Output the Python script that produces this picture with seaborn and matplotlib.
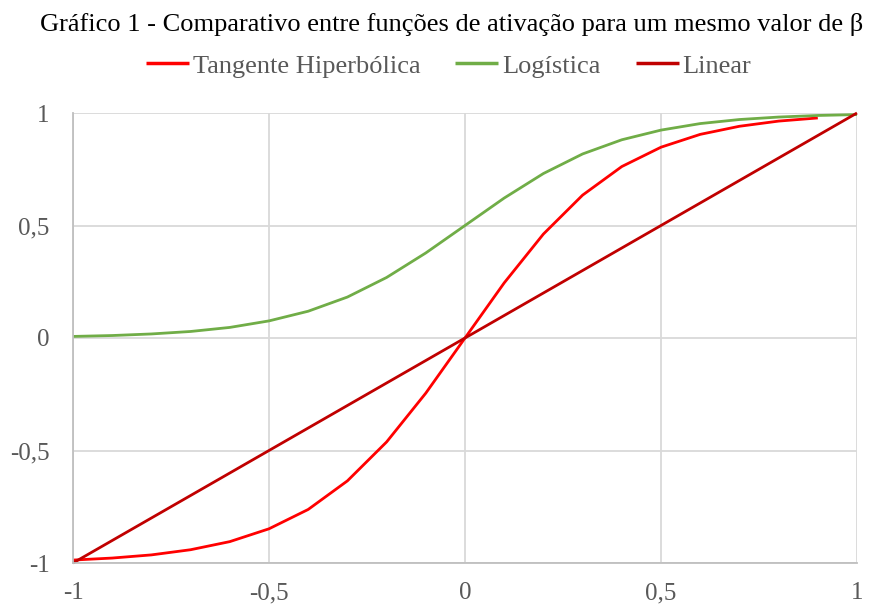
import numpy as np
import pandas as pd
import matplotlib
matplotlib.use("Agg")
import matplotlib.pyplot as plt
import seaborn as sns
from matplotlib.ticker import FuncFormatter

# Sample points of each activation function
x_tanh = [-1.0, -0.9, -0.8, -0.7, -0.6, -0.5, -0.4, -0.3, -0.2, -0.1,
          0.0, 0.1, 0.2, 0.3, 0.4, 0.5, 0.6, 0.7, 0.8, 0.9]
y_tanh = [-0.987, -0.978, -0.964, -0.941, -0.905, -0.848, -0.762, -0.635, -0.462, -0.245,
          0.0, 0.245, 0.462, 0.635, 0.762, 0.848, 0.905, 0.941, 0.964, 0.978]

x_log = [-1.0, -0.9, -0.8, -0.7, -0.6, -0.5, -0.4, -0.3, -0.2, -0.1,
         0.0, 0.1, 0.2, 0.3, 0.4, 0.5, 0.6, 0.7, 0.8, 0.9, 1.0]
y_log = [0.007, 0.011, 0.018, 0.029, 0.047, 0.076, 0.119, 0.182, 0.269, 0.378,
         0.5, 0.622, 0.731, 0.818, 0.881, 0.924, 0.953, 0.971, 0.982, 0.989, 0.993]

x_lin = [-1.0, -0.9, -0.8, -0.7, -0.6, -0.5, -0.4, -0.3, -0.2, -0.1,
         0.0, 0.1, 0.2, 0.3, 0.4, 0.5, 0.6, 0.7, 0.8, 0.9, 1.0]
y_lin = [-1.0, -0.9, -0.8, -0.7, -0.6, -0.5, -0.4, -0.3, -0.2, -0.1,
         0.0, 0.1, 0.2, 0.3, 0.4, 0.5, 0.6, 0.7, 0.8, 0.9, 1.0]

series_names = ["Tangente Hiperbólica", "Logística", "Linear"]
series_colors = ["#FF0000", "#70AD47", "#C00000"]
ticks = [-1, -0.5, 0, 0.5, 1]

df = pd.concat([
    pd.DataFrame({"x": x_tanh, "y": y_tanh, "serie": series_names[0]}),
    pd.DataFrame({"x": x_log, "y": y_log, "serie": series_names[1]}),
    pd.DataFrame({"x": x_lin, "y": y_lin, "serie": series_names[2]}),
], ignore_index=True)

sns.set_theme(style="white")
plt.rcParams["font.family"] = ["Liberation Serif", "DejaVu Serif"]

fig = plt.figure(figsize=(8.71, 6.06), dpi=100)
ax = fig.add_axes([73 / 871, 1 - 563 / 606, (857 - 73) / 871, (563 - 113) / 606])

sns.lineplot(data=df, x="x", y="y", hue="serie", hue_order=series_names,
             palette=dict(zip(series_names, series_colors)),
             sort=False, estimator=None, linewidth=2.0, ax=ax, legend=True)
for line in ax.lines:
    line.set_clip_on(False)
    line.set_solid_capstyle("butt")

ax.set_xlim(-1, 1)
ax.set_ylim(-1, 1)
ax.set_xticks(ticks)
ax.set_yticks(ticks)
fmt = FuncFormatter(lambda v, p: (f"{v:g}").replace(".", ","))
ax.xaxis.set_major_formatter(fmt)
ax.yaxis.set_major_formatter(fmt)
ax.set_xlabel("")
ax.set_ylabel("")

grid_color = "#D9D9D9"
ax.grid(True, color=grid_color, linewidth=1.3)
ax.set_axisbelow(True)
for side in ["top", "right"]:
    ax.spines[side].set_visible(False)
for side in ["left", "bottom"]:
    ax.spines[side].set_color("#BFBFBF")
    ax.spines[side].set_linewidth(1.3)
ax.tick_params(axis="both", which="major", direction="out", length=6, width=1.3,
               color="#BFBFBF", labelcolor="#595959", labelsize=18)
ax.tick_params(axis="x", pad=8)
ax.tick_params(axis="y", pad=11)

handles, labels = ax.get_legend_handles_labels()
ax.get_legend().remove()
leg = fig.legend(handles, labels, loc="center", bbox_to_anchor=(448.5 / 871, 1 - 66 / 606), ncol=3,
                 frameon=False, fontsize=19, handlelength=1.63, handletextpad=0.15,
                 columnspacing=1.33)
for t in leg.get_texts():
    t.set_color("#595959")
for h in leg.legend_handles:
    h.set_linewidth(2.5)

fig.text(452 / 871, 1 - 24 / 606, "Gráfico 1 - Comparativo entre funções de ativação para um mesmo valor de β",
         ha="center", va="center", fontsize=19, color="black")

fig.savefig("out.png", dpi=100, facecolor="white")
